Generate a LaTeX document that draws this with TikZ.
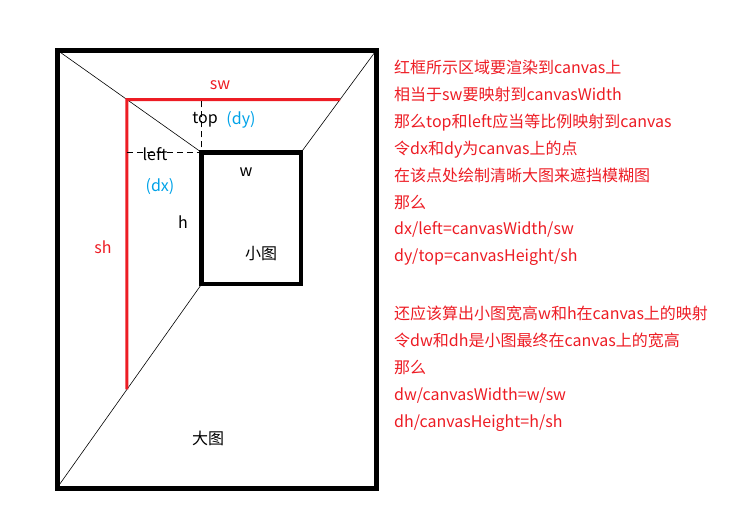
\documentclass[tikz,border=0pt]{standalone}
\usepackage{fontspec}
\setmainfont{Noto Sans CJK SC}
\usetikzlibrary{calc}
\definecolor{paintred}{RGB}{237,28,36}
\definecolor{paintblue}{RGB}{0,162,232}
\tikzset{
    %Define style for the picture frames
    frame/.style={
           rectangle,
           draw=black,
           inner sep=0pt,
           outer sep=0pt},
    %Define style for labels in the drawing
    lbl/.style={
           font=\fontsize{16}{19}\selectfont,
           inner sep=1pt},
    %Define style for the notes on the right
    note/.style={
           anchor=base west,
           text=paintred,
           font=\fontsize{16}{19}\selectfont,
           inner sep=0pt},
    % Define line styles
    persp/.style={
           line width=0.6pt},
    redline/.style={
           draw=paintred,
           line width=3pt},
    guide/.style={
           line width=0.7pt,
           dash pattern=on 6pt off 4pt}
}
\begin{document}
\begin{tikzpicture}[x=1pt,y=-1pt]
  \useasboundingbox (0,0) rectangle (739,517);
  % frames
  \node[frame, line width=5pt, minimum width=319.5pt, minimum height=438pt] (big) at (216.75,269) {};
  \node[frame, line width=4.5pt, minimum width=99.3pt, minimum height=131.5pt] (small) at (251.35,218.25) {};
  \draw[persp] (big.north west) -- (small.north west);
  \draw[persp] (big.north east) -- (small.north east);
  \draw[persp] (big.south west) -- (small.south west);
  % red region
  \coordinate (swL) at ($(big.north west)!0.483!(small.north west)$);
  \coordinate (hAux) at ($(swL)+(10,0)$);
  \coordinate (vAux) at ($(swL)+(0,10)$);
  \coordinate (swR) at (intersection of big.north east--small.north east and swL--hAux);
  \coordinate (shB) at (intersection of big.south west--small.south west and swL--vAux);
  \draw[redline] (shB) -- (swL) -- (swR);
  \draw[guide] (swL |- small.north west) -- (small.north west) -- (small.north west |- swL);
  % labels
  \node[lbl, text=paintred] (swlbl) at (220,85) {sw};
  \node[lbl] (toplbl) at (205,120) {top};
  \node[lbl, text=paintblue] (dylbl) at (241,120) {(dy)};
  \node[lbl] (leftlbl) at (155,154) {left};
  \node[lbl, text=paintblue] (dxlbl) at (160,187) {(dx)};
  \node[lbl] (wlbl) at (246,172) {w};
  \node[lbl] (hlbl) at (183,222) {h};
  \node[lbl] (smalllbl) at (261,254) {小图};
  \node[lbl] (biglbl) at (208,438) {大图};
  \node[lbl, text=paintred] (shlbl) at (103,247) {sh};
  % notes
  \foreach \txt [count=\i] in {红框所示区域要渲染到canvas上,
      相当于sw要映射到canvasWidth,
      那么top和left应当等比例映射到canvas,
      令dx和dy为canvas上的点,
      在该点处绘制清晰大图来遮挡模糊图,
      那么,
      dx/left=canvasWidth/sw,
      dy/top=canvasHeight/sh}
    \node[note] (noteA\i) at (394,{73.5+26.9*(\i-1)}) {\txt};
  \foreach \txt [count=\i] in {还应该算出小图宽高w和h在canvas上的映射,
      令dw和dh是小图最终在canvas上的宽高,
      那么,
      dw/canvasWidth=w/sw,
      dh/canvasHeight=h/sh}
    \node[note] (noteB\i) at (394,{319+27*(\i-1)}) {\txt};
\end{tikzpicture}
\end{document}
